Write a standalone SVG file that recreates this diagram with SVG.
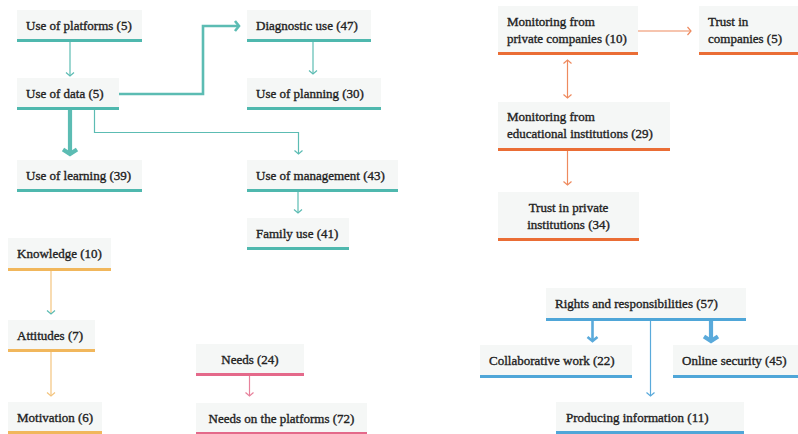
<svg xmlns="http://www.w3.org/2000/svg" width="798" height="434" viewBox="0 0 798 434">
  <style>
    .box { fill: #f5f7f6; }
    .lbl { font-family: "Liberation Serif", "Times New Roman", serif; font-size: 13px; font-weight: normal; fill: #222222; stroke: #222222; stroke-width: 0.35px; }
    .mid { text-anchor: middle; }
    .bar-teal { fill: #4fb8ae; }
    .bar-orange { fill: #ea6d35; }
    .bar-yellow { fill: #f1b75c; }
    .bar-pink { fill: #e4698a; }
    .bar-blue { fill: #4fa6d8; }
    .ln { fill: none; stroke-linejoin: miter; }
    .teal { stroke: #5cbcb3; }
    .orange { stroke: #ee8a5e; }
    .yellow { stroke: #f3c47e; }
    .pink { stroke: #e7829c; }
    .blue { stroke: #5aaadb; }
    .w1 { stroke-width: 1.2; }
    .w2 { stroke-width: 2.6; }
    .w3 { stroke-width: 4.2; }
  </style>
  <defs>
    <marker id="ah-teal" markerUnits="userSpaceOnUse" viewBox="-5 -5 10 10" refX="0" refY="0" markerWidth="10" markerHeight="10" orient="auto">
      <path d="M-3.5,-4 L0,0 L-3.5,4" fill="none" stroke="#5cbcb3" stroke-width="1.2"/>
    </marker>
    <marker id="ah-teal-m" markerUnits="userSpaceOnUse" viewBox="-8 -8 16 16" refX="0" refY="0" markerWidth="16" markerHeight="16" orient="auto">
      <path d="M-4,-5 L0,0 L-4,5" fill="none" stroke="#5cbcb3" stroke-width="2.6"/>
    </marker>
    <marker id="ah-teal-l" markerUnits="userSpaceOnUse" viewBox="-10 -10 20 20" refX="0" refY="0" markerWidth="20" markerHeight="20" orient="auto">
      <path d="M-5.5,-7 L-1,0 L-5.5,7" fill="none" stroke="#5cbcb3" stroke-width="4.2"/>
    </marker>
    <marker id="ah-orange" markerUnits="userSpaceOnUse" viewBox="-5 -5 10 10" refX="0" refY="0" markerWidth="10" markerHeight="10" orient="auto-start-reverse">
      <path d="M-3.5,-4 L0,0 L-3.5,4" fill="none" stroke="#ee8a5e" stroke-width="1.2"/>
    </marker>
    <marker id="ah-yellow" markerUnits="userSpaceOnUse" viewBox="-5 -5 10 10" refX="0" refY="0" markerWidth="10" markerHeight="10" orient="auto">
      <path d="M-3.5,-4 L0,0 L-3.5,4" fill="none" stroke="#f3c47e" stroke-width="1.2"/>
    </marker>
    <marker id="ah-pink" markerUnits="userSpaceOnUse" viewBox="-5 -5 10 10" refX="0" refY="0" markerWidth="10" markerHeight="10" orient="auto">
      <path d="M-3.5,-4 L0,0 L-3.5,4" fill="none" stroke="#e7829c" stroke-width="1.2"/>
    </marker>
    <marker id="ah-blue" markerUnits="userSpaceOnUse" viewBox="-5 -5 10 10" refX="0" refY="0" markerWidth="10" markerHeight="10" orient="auto">
      <path d="M-3.5,-4 L0,0 L-3.5,4" fill="none" stroke="#5aaadb" stroke-width="1.2"/>
    </marker>
    <marker id="ah-blue-m" markerUnits="userSpaceOnUse" viewBox="-8 -8 16 16" refX="0" refY="0" markerWidth="16" markerHeight="16" orient="auto">
      <path d="M-4,-5 L0,0 L-4,5" fill="none" stroke="#5aaadb" stroke-width="2.6"/>
    </marker>
    <marker id="ah-blue-l" markerUnits="userSpaceOnUse" viewBox="-10 -10 20 20" refX="0" refY="0" markerWidth="20" markerHeight="20" orient="auto">
      <path d="M-5.5,-7 L-1,0 L-5.5,7" fill="none" stroke="#5aaadb" stroke-width="4.2"/>
    </marker>
  </defs>

  <!-- connectors -->
  <g id="connectors">
    <!-- data use cluster -->
    <path class="ln teal w1" d="M70,42 V76" marker-end="url(#ah-teal)"/>
    <path class="ln teal w2" d="M119,94 H203 V26 H239" marker-end="url(#ah-teal-m)"/>
    <path class="ln teal w3" d="M70,110 V155" marker-end="url(#ah-teal-l)"/>
    <path class="ln teal w1" d="M94.5,110 V132.5 H298.5 V154" marker-end="url(#ah-teal)"/>
    <path class="ln teal w1" d="M313,42 V74" marker-end="url(#ah-teal)"/>
    <path class="ln teal w1" d="M298,192 V213" marker-end="url(#ah-teal)"/>
    <!-- knowledge cluster -->
    <path class="ln yellow w1" d="M51,271 V314" marker-end="url(#ah-teal)"/>
    <path class="ln yellow w1" d="M51,352 V396" marker-end="url(#ah-yellow)"/>
    <!-- needs -->
    <path class="ln pink w1" d="M249.5,376 V396" marker-end="url(#ah-pink)"/>
    <!-- monitoring / trust -->
    <path class="ln orange w1" d="M638,31 H691" marker-end="url(#ah-orange)"/>
    <path class="ln orange w1" d="M567.5,60 V98" marker-start="url(#ah-orange)" marker-end="url(#ah-orange)"/>
    <path class="ln orange w1" d="M567.5,151 V185" marker-end="url(#ah-orange)"/>
    <!-- rights cluster -->
    <path class="ln blue w2" d="M592.5,321 V341" marker-end="url(#ah-blue-m)"/>
    <path class="ln blue w3" d="M711,321 V342" marker-end="url(#ah-blue-l)"/>
    <path class="ln blue w1" d="M650.5,321 V396" marker-end="url(#ah-blue)"/>
  </g>

  <!-- teal nodes -->
  <g id="use-of-platforms">
    <rect class="box" x="17" y="10" width="125" height="30"/>
    <rect class="bar-teal" x="17" y="39" width="125" height="3"/>
    <text class="lbl" x="26" y="30">Use of platforms (5)</text>
  </g>
  <g id="use-of-data">
    <rect class="box" x="17" y="78" width="102" height="30"/>
    <rect class="bar-teal" x="17" y="107" width="102" height="3"/>
    <text class="lbl" x="26" y="98">Use of data (5)</text>
  </g>
  <g id="diagnostic-use">
    <rect class="box" x="247" y="10" width="124" height="30"/>
    <rect class="bar-teal" x="247" y="39" width="124" height="3"/>
    <text class="lbl" x="256" y="30">Diagnostic use (47)</text>
  </g>
  <g id="use-of-planning">
    <rect class="box" x="247" y="78" width="134" height="30"/>
    <rect class="bar-teal" x="247" y="107" width="134" height="3"/>
    <text class="lbl" x="256" y="98">Use of planning (30)</text>
  </g>
  <g id="use-of-learning">
    <rect class="box" x="17" y="160" width="125" height="30"/>
    <rect class="bar-teal" x="17" y="189" width="125" height="3"/>
    <text class="lbl" x="26" y="180">Use of learning (39)</text>
  </g>
  <g id="use-of-management">
    <rect class="box" x="247" y="160" width="151" height="30"/>
    <rect class="bar-teal" x="247" y="189" width="151" height="3"/>
    <text class="lbl" x="256" y="180">Use of management (43)</text>
  </g>
  <g id="family-use">
    <rect class="box" x="247" y="218" width="102" height="30"/>
    <rect class="bar-teal" x="247" y="247" width="102" height="3"/>
    <text class="lbl" x="256" y="238">Family use (41)</text>
  </g>

  <!-- yellow nodes -->
  <g id="knowledge">
    <rect class="box" x="8" y="238" width="103" height="31"/>
    <rect class="bar-yellow" x="8" y="268" width="103" height="3"/>
    <text class="lbl" x="17" y="258">Knowledge (10)</text>
  </g>
  <g id="attitudes">
    <rect class="box" x="8" y="320" width="87" height="30"/>
    <rect class="bar-yellow" x="8" y="349" width="87" height="3"/>
    <text class="lbl" x="17" y="340">Attitudes (7)</text>
  </g>
  <g id="motivation">
    <rect class="box" x="8" y="402" width="94" height="30"/>
    <rect class="bar-yellow" x="8" y="431" width="94" height="3"/>
    <text class="lbl" x="17" y="422">Motivation (6)</text>
  </g>

  <!-- pink nodes -->
  <g id="needs">
    <rect class="box" x="196" y="344" width="108" height="30"/>
    <rect class="bar-pink" x="196" y="373" width="108" height="3"/>
    <text class="lbl mid" x="250" y="364">Needs (24)</text>
  </g>
  <g id="needs-on-platforms">
    <rect class="box" x="196" y="403" width="171" height="30"/>
    <rect class="bar-pink" x="196" y="432" width="171" height="3"/>
    <text class="lbl mid" x="281.5" y="423">Needs on the platforms (72)</text>
  </g>

  <!-- orange nodes -->
  <g id="monitoring-private">
    <rect class="box" x="498" y="6" width="140" height="47"/>
    <rect class="bar-orange" x="498" y="52" width="140" height="3"/>
    <text class="lbl" x="507" y="26">Monitoring from</text>
    <text class="lbl" x="507" y="43">private companies (10)</text>
  </g>
  <g id="trust-companies">
    <rect class="box" x="699" y="6" width="99" height="47"/>
    <rect class="bar-orange" x="699" y="52" width="99" height="3"/>
    <text class="lbl" x="708" y="26">Trust in</text>
    <text class="lbl" x="708" y="43">companies (5)</text>
  </g>
  <g id="monitoring-educational">
    <rect class="box" x="498" y="102" width="172" height="47"/>
    <rect class="bar-orange" x="498" y="148" width="172" height="3"/>
    <text class="lbl" x="507" y="121">Monitoring from</text>
    <text class="lbl" x="507" y="138">educational institutions (29)</text>
  </g>
  <g id="trust-private-institutions">
    <rect class="box" x="498" y="192" width="141" height="47"/>
    <rect class="bar-orange" x="498" y="238" width="141" height="3"/>
    <text class="lbl mid" x="568.5" y="212">Trust in private</text>
    <text class="lbl mid" x="568.5" y="229">institutions (34)</text>
  </g>

  <!-- blue nodes -->
  <g id="rights-responsibilities">
    <rect class="box" x="546" y="288" width="200" height="30"/>
    <rect class="bar-blue" x="546" y="318" width="200" height="3"/>
    <text class="lbl" x="555" y="308">Rights and responsibilities (57)</text>
  </g>
  <g id="collaborative-work">
    <rect class="box" x="480" y="345" width="152" height="30"/>
    <rect class="bar-blue" x="480" y="375" width="152" height="3"/>
    <text class="lbl" x="489" y="365">Collaborative work (22)</text>
  </g>
  <g id="online-security">
    <rect class="box" x="673" y="345" width="125" height="30"/>
    <rect class="bar-blue" x="673" y="375" width="125" height="3"/>
    <text class="lbl" x="682" y="365">Online security (45)</text>
  </g>
  <g id="producing-information">
    <rect class="box" x="556" y="402" width="188" height="30"/>
    <rect class="bar-blue" x="556" y="431" width="188" height="3"/>
    <text class="lbl" x="566" y="422">Producing information (11)</text>
  </g>
</svg>
